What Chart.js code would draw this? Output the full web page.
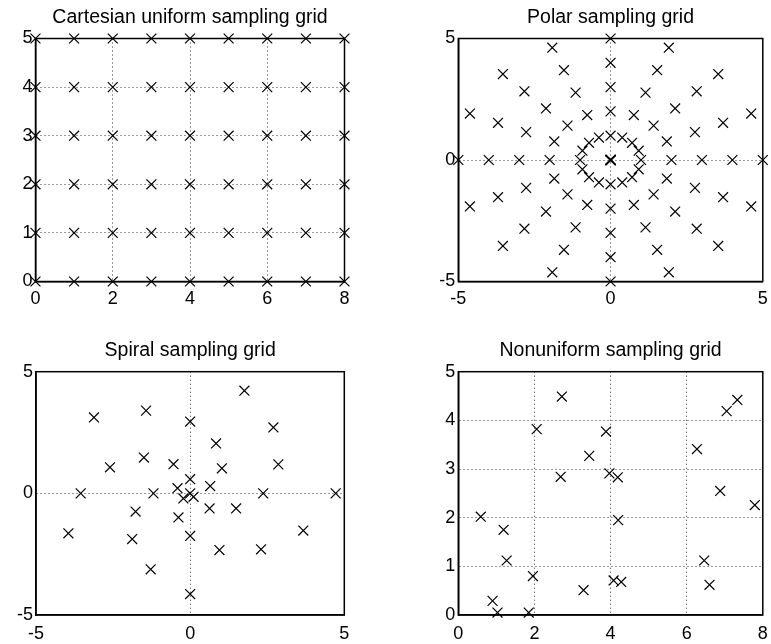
<!DOCTYPE html>
<html><head><meta charset="utf-8">
<script src="https://cdn.jsdelivr.net/npm/chart.js@4"></script>
<style>
html,body{margin:0;padding:0;background:#fff;width:771px;height:644px;overflow:hidden}
canvas{position:absolute;display:block}
</style></head><body>
<canvas id="c1" width="385" height="322" style="left:0px;top:0px"></canvas>
<canvas id="c2" width="386" height="322" style="left:385px;top:0px"></canvas>
<canvas id="c3" width="385" height="322" style="left:0px;top:322px"></canvas>
<canvas id="c4" width="386" height="322" style="left:385px;top:322px"></canvas>
<script>
// ---- data ----
const titles = ["Cartesian uniform sampling grid", "Polar sampling grid", "Spiral sampling grid", "Nonuniform sampling grid"];

const cartGridX = [0, 1, 2, 3, 4, 5, 6, 7, 8];
const cartGridY = [0, 1, 2, 3, 4, 5];

const polarRadii = [0, 1, 2, 3, 4, 5];
const polarDirX = [1, 0.9239, 0.7071, 0.3827, 0, -0.3827, -0.7071, -0.9239, -1, -0.9239, -0.7071, -0.3827, 0, 0.3827, 0.7071, 0.9239];
const polarDirY = [0, 0.3827, 0.7071, 0.9239, 1, 0.9239, 0.7071, 0.3827, 0, -0.3827, -0.7071, -0.9239, -1, -0.9239, -0.7071, -0.3827];

const spiralX = [1.76, -3.12, -1.43, 0, 2.70, 0.84, -1.50, -2.60, -0.54, 1.03, 2.86, 0, 0.65, -0.41, -3.55, -1.19, 0, 0.11, -0.22, 2.37, 4.72, -1.77, 0.63, 1.49, -0.38, -3.95, -1.88, 0, 0.95, 2.30, 3.67, -1.28, 0];
const spiralY = [4.22, 3.12, 3.40, 2.95, 2.71, 2.05, 1.47, 1.07, 1.20, 1.03, 1.19, 0.58, 0.30, 0.21, 0, 0, 0, -0.14, -0.21, 0, 0, -0.75, -0.62, -0.62, -0.99, -1.64, -1.88, -1.75, -2.33, -2.30, -1.53, -3.12, -4.14];

const nonuniX = [2.72, 2.06, 3.88, 3.44, 2.69, 3.97, 4.19, 4.20, 7.33, 7.05, 6.27, 6.88, 7.79, 0.59, 1.19, 1.27, 1.96, 0.90, 1.03, 1.85, 3.29, 4.08, 4.28, 6.46, 6.60];
const nonuniY = [4.49, 3.82, 3.77, 3.27, 2.84, 2.91, 2.83, 1.95, 4.42, 4.19, 3.41, 2.55, 2.26, 2.02, 1.75, 1.12, 0.80, 0.29, 0.05, 0.05, 0.51, 0.71, 0.68, 1.12, 0.62];

const ticksX08 = [0, 2, 4, 6, 8];
const ticksY05 = [0, 1, 2, 3, 4, 5];
const ticksSym = [-5, 0, 5];

// ---- build point tables ----
const cartPts = [];
cartGridY.forEach(y => cartGridX.forEach(x => cartPts.push({x: x, y: y})));
const polarPts = [];
polarRadii.forEach(r => polarDirX.forEach((dx, i) => polarPts.push({x: r * dx, y: r * polarDirY[i]})));
const spiralPts = spiralX.map((x, i) => ({x: x, y: spiralY[i]}));
const nonuniPts = nonuniX.map((x, i) => ({x: x, y: nonuniY[i]}));

// ---- chart ----
const FONT = "'Liberation Sans', Arial, Helvetica, sans-serif";
const boxPlugin = {
  id: 'box',
  beforeDatasetsDraw(chart) {
    const {ctx, chartArea: a} = chart;
    ctx.save();
    ctx.strokeStyle = '#000';
    ctx.lineWidth = 1.5;
    ctx.strokeRect(a.left, a.top, a.right - a.left, a.bottom - a.top);
    ctx.restore();
  }
};

function axis(range, ticks, isX, L) {
  return {
    type: 'linear', min: range[0], max: range[1],
    afterBuildTicks: s => { s.ticks = ticks.map(v => ({value: v})); },
    afterFit: s => {
      if (isX) { s.height = L.xH; s.paddingLeft = 0; s.paddingRight = 0; }
      else { s.width = L.yW; s.paddingTop = 0; s.paddingBottom = 0; }
    },
    grid: {
      drawTicks: false, lineWidth: 1,
      color: c => (c.tick && (c.tick.value === range[0] || c.tick.value === range[1])) ? 'rgba(0,0,0,0)' : '#333'
    },
    border: {display: true, color: '#000', width: 1.5, dash: [1, 3]},
    ticks: {color: '#000', font: {family: FONT, size: 18}, padding: isX ? L.xPad : L.yPad, maxRotation: 0, autoSkip: false}
  };
}

function makeChart(id, title, pts, xr, yr, xt, yt, L) {
  new Chart(document.getElementById(id), {
    type: 'scatter',
    data: {datasets: [{data: pts, pointStyle: 'crossRot', pointRadius: 7, pointHoverRadius: 7,
      borderColor: '#000', backgroundColor: 'rgba(0,0,0,0)', borderWidth: 1.2, clip: false}]},
    options: {
      responsive: false, animation: false, devicePixelRatio: 1, events: [],
      layout: {padding: {left: 0, top: 0, right: L.padR, bottom: 0}},
      plugins: {
        legend: {display: false}, tooltip: {enabled: false},
        title: {display: true, text: title, fullSize: false, color: '#000',
          font: {family: FONT, size: 19.5, weight: 'normal', lineHeight: 1.2},
          padding: {top: L.tTop, bottom: L.tBot}}
      },
      scales: {x: axis(xr, xt, true, L), y: axis(yr, yt, false, L)}
    },
    plugins: [boxPlugin]
  });
}

const topRow = {tTop: 5.6, tBot: 9.5, xH: 40.5, xPad: 6.5, yPad: 3};
const botRow = {tTop: 17, tBot: 9.3, xH: 29, xPad: 8.5, yPad: 3};

makeChart('c1', titles[0], cartPts, [0, 8], [0, 5], ticksX08, ticksY05, Object.assign({yW: 35.5, padR: 40.5}, topRow));
makeChart('c2', titles[1], polarPts, [-5, 5], [-5, 5], ticksSym, ticksSym, Object.assign({yW: 73.3, padR: 4}, topRow));
makeChart('c3', titles[2], spiralPts, [-5, 5], [-5, 5], ticksSym, ticksSym, Object.assign({yW: 36, padR: 40.7}, botRow));
makeChart('c4', titles[3], nonuniPts, [0, 8], [0, 5], ticksX08, ticksY05, Object.assign({yW: 73.3, padR: 4}, botRow));
</script>
</body></html>
